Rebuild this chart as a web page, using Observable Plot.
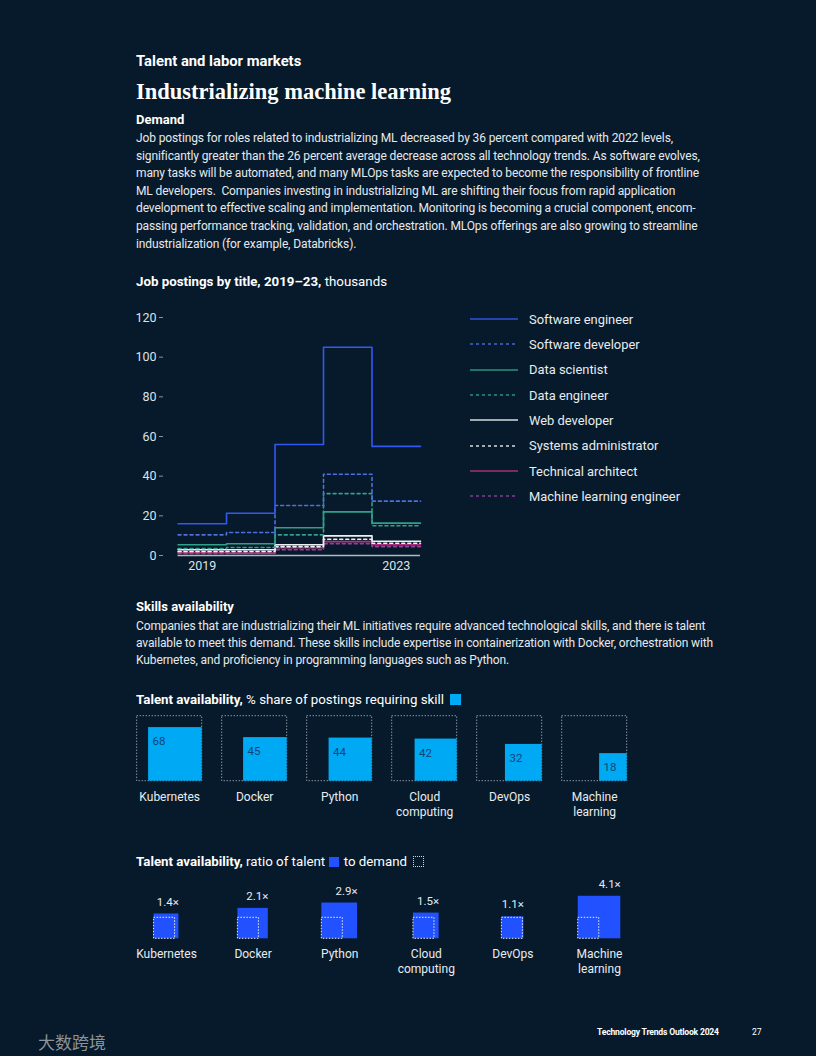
<!DOCTYPE html>
<html>
<head>
<meta charset="utf-8">
<script src="https://cdn.jsdelivr.net/npm/d3@7"></script>
<script src="https://cdn.jsdelivr.net/npm/@observablehq/plot@0.6"></script>
<style>
  html, body { margin: 0; padding: 0; background: #061a2b; }
  #page { position: relative; width: 816px; height: 1056px; background: #061a2b; overflow: hidden;
          font-family: Roboto, "Liberation Sans", sans-serif; color: #e8ecef; }
  .abs { position: absolute; white-space: nowrap; }
  .kicker { left: 136px; top: 52px; font-size: 14.8px; font-weight: 700; color: #fff; line-height: 18px; }
  .title { left: 136px; top: 78px; font-family: "Liberation Serif", serif; font-weight: 700; font-size: 22.5px; color: #fff; line-height: 28px; }
  .sub { font-size: 13px; font-weight: 700; color: #fff; line-height: 16px; }
  .body { font-size: 12px; line-height: 17.6px; letter-spacing: -0.12px; color: #e6e9ec; }
  .chead { font-size: 13.3px; color: #fff; line-height: 16px; }
  .chead b { font-weight: 700; }
  .legend { left: 470px; top: 306.5px; font-size: 12.9px; color: #e8ecef; }
  .legend .row { height: 25.33px; display: flex; align-items: center; }
  .legend svg { margin-right: 11px; }
  .sw { display: inline-block; vertical-align: -1px; }
</style>
</head>
<body>
<div id="page">
  <div class="abs kicker">Talent and labor markets</div>
  <div class="abs title">Industrializing machine learning</div>
  <div class="abs sub" style="left:136px; top:112px;">Demand</div>
  <div class="abs body" style="left:136px; top:130px;">Job postings for roles related to industrializing ML decreased by 36 percent compared with 2022 levels,<br>significantly greater than the 26 percent average decrease across all technology trends. As software evolves,<br>many tasks will be automated, and many MLOps tasks are expected to become the responsibility of frontline<br>ML developers.&nbsp; Companies investing in industrializing ML are shifting their focus from rapid application<br>development to effective scaling and implementation. Monitoring is becoming a crucial component, encom-<br>passing performance tracking, validation, and orchestration. MLOps offerings are also growing to streamline<br>industrialization (for example, Databricks).</div>

  <div class="abs chead" style="left:136px; top:274px;"><b>Job postings by title, 2019–23,</b> thousands</div>
  <div class="abs" id="lineChart" style="left:130px; top:305px;"></div>
  <div class="abs legend" id="legend"></div>

  <div class="abs sub" style="left:136px; top:599px;">Skills availability</div>
  <div class="abs body" style="left:136px; top:618px; line-height:17px;">Companies that are industrializing their ML initiatives require advanced technological skills, and there is talent<br>available to meet this demand. These skills include expertise in containerization with Docker, orchestration with<br>Kubernetes, and proficiency in programming languages such as Python.</div>

  <div class="abs chead" style="left:136px; top:692px;"><b>Talent availability,</b> % share of postings requiring skill <span class="sw" style="width:11px;height:11px;background:#00a9f4;margin-left:3px;"></span></div>
  <div class="abs" id="shareChart" style="left:130px; top:710px;"></div>

  <div class="abs chead" style="left:136px; top:854px;"><b>Talent availability,</b> ratio of talent <span class="sw" style="width:10px;height:10px;background:#2251ff;margin:0 1px;"></span> to demand <span class="sw" style="width:9px;height:9px;border:1px dotted #cfd6dc;margin-left:3px;"></span></div>
  <div class="abs" id="ratioChart" style="left:130px; top:870px;"></div>

  <div class="abs" style="left:38px; top:1029px; font-family:'Noto Sans CJK SC', sans-serif; font-size:17px; color:#8d939a;">大数跨境</div>
  <div class="abs" style="left:597px; top:1026px; font-size:8.6px; font-weight:700; color:#fff; letter-spacing:-0.2px; line-height:12px;">Technology Trends Outlook 2024</div>
  <div class="abs" style="left:752px; top:1026px; font-size:8.6px; color:#fff; line-height:12px;">27</div>
</div>

<script>
// ---------- Data ----------
const years = [2019, 2020, 2021, 2022, 2023];
const seriesNames = ["Software engineer", "Software developer", "Data scientist", "Data engineer",
  "Web developer", "Systems administrator", "Technical architect", "Machine learning engineer"];
const softwareEngineer     = [16, 21.3, 56, 105, 55];
const softwareDeveloper    = [10.4, 11.6, 25.2, 41, 27.4];
const dataScientist        = [5.4, 5.9, 14, 22, 16.3];
const dataEngineer         = [3.5, 4, 10.4, 31.2, 15];
const webDeveloper         = [2.9, 2.9, 5.4, 9.9, 7.2];
const systemsAdministrator = [2, 2, 4.5, 8.2, 6.2];
const technicalArchitect   = [1.5, 1.2, 3.9, 7, 5.4];
const mlEngineer           = [1, 1, 2.9, 5.9, 4.5];
const yTicks = [0, 20, 40, 60, 80, 100, 120];
const xTicks = [2019, 2023];

const skills = ["Kubernetes", "Docker", "Python", "Cloud\ncomputing", "DevOps", "Machine\nlearning"];
const shareOfPostings = [68, 45, 44, 42, 32, 18];
const talentToDemand = [1.4, 2.1, 2.9, 1.5, 1.1, 4.1];
const ratioLabels = ["1.4×", "2.1×", "2.9×", "1.5×", "1.1×", "4.1×"];

// ---------- Styles ----------
const seriesValues = [softwareEngineer, softwareDeveloper, dataScientist, dataEngineer,
  webDeveloper, systemsAdministrator, technicalArchitect, mlEngineer];
const seriesStyle = [
  {stroke: "#3358f2", dash: null},
  {stroke: "#4d6fe0", dash: "3,3"},
  {stroke: "#2fa08a", dash: null},
  {stroke: "#2fa08a", dash: "3,3"},
  {stroke: "#eef1f3", dash: null},
  {stroke: "#eef1f3", dash: "3,3"},
  {stroke: "#b2347f", dash: null},
  {stroke: "#93409f", dash: "3,3"}
];

// ---------- Step chart ----------
const half = 0.5;
const stepMarks = seriesNames.map((name, s) => {
  const vals = seriesValues[s];
  const pts = years.map((yr, i) => ({x: yr - half, y: vals[i]}));
  pts.push({x: years[years.length - 1] + half, y: vals[vals.length - 1]});
  return Plot.line(pts, {x: "x", y: "y", curve: "step-after", stroke: seriesStyle[s].stroke,
    strokeWidth: 1.6, strokeDasharray: seriesStyle[s].dash});
}).reverse();

const lineChart = Plot.plot({
  width: 300, height: 275,
  marginLeft: 33, marginRight: 10, marginTop: 12, marginBottom: 25,
  x: {domain: [2018.2, 2023.5]},
  y: {domain: [0, 120]},
  style: {background: "transparent", color: "#dde2e6", fontSize: "12.5px", fontFamily: "Roboto, sans-serif"},
  marks: [
    Plot.ruleY([0], {x1: d3.min(years) - half, x2: d3.max(years) + half, stroke: "#aeb8bf", strokeWidth: 1.6}),
    ...stepMarks,
    Plot.axisY({ticks: yTicks, tickSize: 4, tickPadding: 3, label: null, stroke: "#8894a0"}),
    Plot.axisX({ticks: xTicks, tickFormat: d => String(d), tickSize: 0, tickPadding: 6, label: null})
  ]
});
document.getElementById("lineChart").appendChild(lineChart);

// legend
const legend = document.getElementById("legend");
seriesNames.forEach((name, s) => {
  const row = document.createElement("div");
  row.className = "row";
  const st = seriesStyle[s];
  row.innerHTML = `<svg width="48" height="4"><line x1="0" x2="48" y1="2" y2="2" stroke="${st.stroke}" stroke-width="1.3" ${st.dash ? `stroke-dasharray="${st.dash}"` : ""} opacity="0.9"/></svg><span>${name}</span>`;
  legend.appendChild(row);
});

// ---------- Share of postings squares ----------
const frameUnit = 65;          // px per unit (frame side)
const colStep = 85 / frameUnit;
const colStart = 6.7 / frameUnit;
const shareRows = skills.map((k, i) => {
  const side = Math.sqrt(shareOfPostings[i] / 100);
  const x0 = colStart + i * colStep;
  return {skill: k, value: shareOfPostings[i], x0, side};
});
const shareChart = Plot.plot({
  width: 520, height: 115,
  marginLeft: 0, marginRight: 0, marginTop: 5.7, marginBottom: 44.3,
  x: {domain: [0, 520 / frameUnit], axis: null},
  y: {domain: [0, 1], axis: null},
  style: {background: "transparent", fontFamily: "Roboto, sans-serif"},
  marks: [
    Plot.rect(shareRows, {x1: d => d.x0, x2: d => d.x0 + 1, y1: 0, y2: 1, fill: "none",
      stroke: "#c3ccd3", strokeWidth: 1, strokeDasharray: "1,2"}),
    Plot.rect(shareRows, {x1: d => d.x0 + 1 - d.side, x2: d => d.x0 + 1, y1: 0, y2: d => d.side, fill: "#00a9f4"}),
    Plot.text(shareRows, {x: d => d.x0 + 1 - d.side, y: d => d.side, text: d => String(d.value),
      textAnchor: "start", lineAnchor: "middle", dx: 4, dy: 14, fill: "#134473", fontSize: 11.5}),
    Plot.text(shareRows, {x: d => d.x0 + 0.5, y: 0, text: "skill", textAnchor: "middle",
      lineAnchor: "top", dy: 9, fill: "#e8ecef", fontSize: 12, lineHeight: 1.25})
  ]
});
document.getElementById("shareChart").appendChild(shareChart);

// ---------- Ratio squares ----------
const demandUnit = 21;         // px per unit (demand square side)
const ratioStep = 86.6 / demandUnit;
const ratioStart = 36 / demandUnit;
const ratioRows = skills.map((k, i) => {
  const side = Math.sqrt(talentToDemand[i]);
  const c = ratioStart + i * ratioStep;
  return {skill: k, label: ratioLabels[i], c, side, x0: c - side / 2};
});
const ratioChart = Plot.plot({
  width: 520, height: 115,
  marginLeft: 0, marginRight: 0, marginTop: 5.3, marginBottom: 46.7,
  x: {domain: [0, 520 / demandUnit], axis: null},
  y: {domain: [0, 3], axis: null},
  style: {background: "transparent", fontFamily: "Roboto, sans-serif"},
  marks: [
    Plot.rect(ratioRows, {x1: d => d.x0, x2: d => d.x0 + d.side, y1: 0, y2: d => d.side, fill: "#2251ff"}),
    Plot.rect(ratioRows, {x1: d => d.x0, x2: d => d.x0 + 1, y1: 0, y2: 1, fill: "none",
      stroke: "#e6ecf5", strokeWidth: 1, strokeDasharray: "1.5,1.5"}),
    Plot.text(ratioRows, {x: d => d.x0 + d.side, y: d => d.side, text: "label", textAnchor: "end",
      lineAnchor: "middle", dy: -12, fill: "#e8ecef", fontSize: 11.5}),
    Plot.text(ratioRows, {x: "c", y: 0, text: "skill", textAnchor: "middle",
      lineAnchor: "top", dy: 8.5, fill: "#e8ecef", fontSize: 12, lineHeight: 1.25})
  ]
});
document.getElementById("ratioChart").appendChild(ratioChart);
</script>
</body>
</html>
